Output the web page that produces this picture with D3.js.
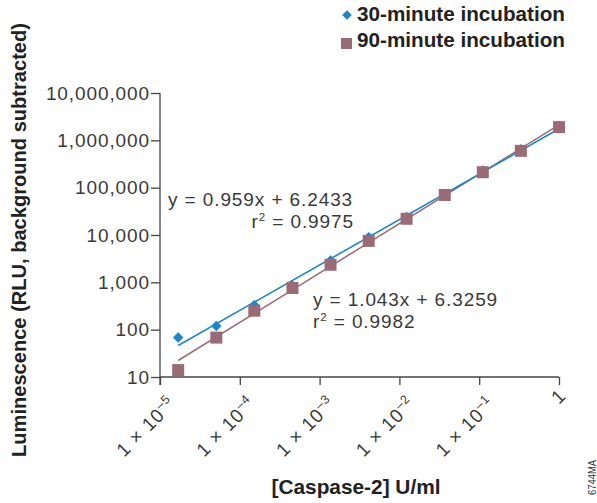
<!DOCTYPE html>
<html>
<head>
<meta charset="utf-8">
<script src="https://cdn.jsdelivr.net/npm/d3@7"></script>
<style>
  body { margin: 0; background: #fff; }
  svg text { font-family: "Liberation Sans", Arial, sans-serif; }
  .cond { font-family: "Liberation Sans", Arial, sans-serif; font-weight: bold; }
  .lite { letter-spacing: 0.9px; }
</style>
</head>
<body>
<div id="chart"></div>
<script>
// caspase-2 dilution series, U/ml
const concentrations = [1, 0.333, 0.111, 0.037, 0.0123, 0.00412, 0.00137, 0.000457, 0.000152, 0.0000508, 0.0000169];
const rlu30 = [2000000, 650000, 230000, 72000, 24000, 9000, 2900, 850, 330, 120, 68];
const rlu90 = [1900000, 600000, 212000, 70000, 22000, 7500, 2350, 760, 252, 68, 14];

// log10 fits printed on the chart
const fit30 = { slope: 0.959, intercept: 6.2433, r2: '0.9975' };
const fit90 = { slope: 1.043, intercept: 6.3259, r2: '0.9982' };

const xTicks = [1e-5, 1e-4, 1e-3, 1e-2, 1e-1, 1];
const xTickExp = ['–5', '–4', '–3', '–2', '–1', null];
const yTicks = [10, 100, 1000, 10000, 100000, 1000000, 10000000];

const width = 597, height = 503;
const blue = '#1b87c9', mauve = '#9b6b75';
const ink = '#3a3a3a';

const svg = d3.select('#chart').append('svg')
  .attr('width', width)
  .attr('height', height);

const x = d3.scaleLog().domain([1e-5, 1]).range([160, 559]);
const y = d3.scaleLog().domain([10, 1e7]).range([377, 93]);

// axes
const xAxis = svg.append('g')
  .attr('transform', 'translate(0,377)')
  .call(d3.axisBottom(x).tickValues(xTicks).tickSize(8).tickFormat(''));
xAxis.select('.domain').attr('d', 'M160,0H559').attr('stroke', '#444').attr('stroke-width', 1.3);
xAxis.selectAll('.tick line').attr('stroke', '#444').attr('stroke-width', 1.3);

const yAxis = svg.append('g')
  .attr('transform', 'translate(160,0)')
  .call(d3.axisLeft(y).tickValues(yTicks).tickSize(9).tickPadding(1).tickFormat(d3.format(',')));
yAxis.select('.domain').attr('d', 'M0,93V385').attr('stroke', '#444').attr('stroke-width', 1.3);
yAxis.selectAll('.tick line').attr('stroke', '#444').attr('stroke-width', 1.3);
yAxis.selectAll('.tick text')
  .attr('class', 'lite')
  .attr('font-family', '"Liberation Sans", Arial, sans-serif')
  .attr('font-size', 19)
  .attr('fill', ink);

// rotated x tick labels
const xl = svg.append('g');
xTicks.forEach((t, i) => {
  const txt = xl.append('text')
    .attr('class', 'lite')
    .attr('transform', `translate(${x(t) + (xTickExp[i] ? 17 : 8)},${xTickExp[i] ? 405 : 397}) rotate(-45)`)
    .attr('text-anchor', 'end')
    .attr('font-size', 19)
    .attr('fill', ink);
  if (xTickExp[i]) {
    txt.append('tspan').text('1 × 10');
    txt.append('tspan').attr('dy', -8).attr('font-size', 12.5).text(xTickExp[i]);
  } else {
    txt.text('1');
  }
});

// regression lines
const x0 = d3.min(concentrations), x1 = d3.max(concentrations);
function fitLine(f) {
  return [x0, x1].map(c => [c, Math.pow(10, f.slope * Math.log10(c) + f.intercept)]);
}
const line = d3.line().x(d => x(d[0])).y(d => y(d[1]));
svg.append('path').datum(fitLine(fit90)).attr('d', line)
  .attr('fill', 'none').attr('stroke', mauve).attr('stroke-width', 1.5);
svg.append('path').datum(fitLine(fit30)).attr('d', line)
  .attr('fill', 'none').attr('stroke', blue).attr('stroke-width', 1.6);

// markers
const diamond = d3.symbol().type(d3.symbolDiamond2).size(70);
svg.append('g').selectAll('path')
  .data(concentrations.map((c, i) => [c, rlu30[i]]))
  .enter().append('path')
  .attr('d', diamond)
  .attr('transform', d => `translate(${x(d[0])},${y(d[1])})`)
  .attr('fill', blue);

svg.append('g').selectAll('rect')
  .data(concentrations.map((c, i) => [c, rlu90[i]]))
  .enter().append('rect')
  .attr('x', d => x(d[0]) - 6)
  .attr('y', d => y(d[1]) - 6)
  .attr('width', 12)
  .attr('height', 12)
  .attr('fill', mauve);

// equations
const eq = svg.append('g').attr('class', 'lite').attr('font-size', 19).attr('fill', ink);
eq.append('text').attr('x', 168).attr('y', 206).text(`y = ${fit30.slope}x + ${fit30.intercept}`);
const r30 = eq.append('text').attr('x', 354).attr('y', 228).attr('text-anchor', 'end');
r30.append('tspan').text('r');
r30.append('tspan').attr('dy', -7).attr('font-size', 11.5).text('2');
r30.append('tspan').attr('dy', 7).text(` = ${fit30.r2}`);

eq.append('text').attr('x', 313).attr('y', 306).text(`y = ${fit90.slope}x + ${fit90.intercept}`);
const r90 = eq.append('text').attr('x', 313).attr('y', 328);
r90.append('tspan').text('r');
r90.append('tspan').attr('dy', -7).attr('font-size', 11.5).text('2');
r90.append('tspan').attr('dy', 7).text(` = ${fit90.r2}`);

// legend
const lg = svg.append('g');
lg.append('path').attr('d', d3.symbol().type(d3.symbolDiamond2).size(60)())
  .attr('transform', 'translate(347,15)').attr('fill', blue);
lg.append('rect').attr('x', 341).attr('y', 38).attr('width', 11).attr('height', 11).attr('fill', mauve);
lg.append('text').attr('class', 'cond').attr('x', 357).attr('y', 21)
  .attr('font-size', 20).attr('fill', '#222')
  .attr('textLength', 208).attr('lengthAdjust', 'spacingAndGlyphs')
  .text('30-minute incubation');
lg.append('text').attr('class', 'cond').attr('x', 357).attr('y', 47)
  .attr('font-size', 20).attr('fill', '#222')
  .attr('textLength', 208).attr('lengthAdjust', 'spacingAndGlyphs')
  .text('90-minute incubation');

// axis titles
svg.append('text').attr('class', 'cond')
  .attr('transform', 'translate(26,240) rotate(-90)')
  .attr('text-anchor', 'middle')
  .attr('font-size', 21).attr('fill', '#222')
  .attr('textLength', 434).attr('lengthAdjust', 'spacingAndGlyphs')
  .text('Luminescence (RLU, background subtracted)');
svg.append('text').attr('class', 'cond')
  .attr('x', 356).attr('y', 494)
  .attr('text-anchor', 'middle')
  .attr('font-size', 21).attr('fill', '#222')
  .attr('textLength', 169).attr('lengthAdjust', 'spacingAndGlyphs')
  .text('[Caspase-2] U/ml');

svg.append('text')
  .attr('transform', 'translate(596,495) rotate(-90)')
  .attr('font-size', 10).attr('fill', '#333')
  .attr('textLength', 35).attr('lengthAdjust', 'spacingAndGlyphs')
  .text('6744MA');
</script>
</body>
</html>
